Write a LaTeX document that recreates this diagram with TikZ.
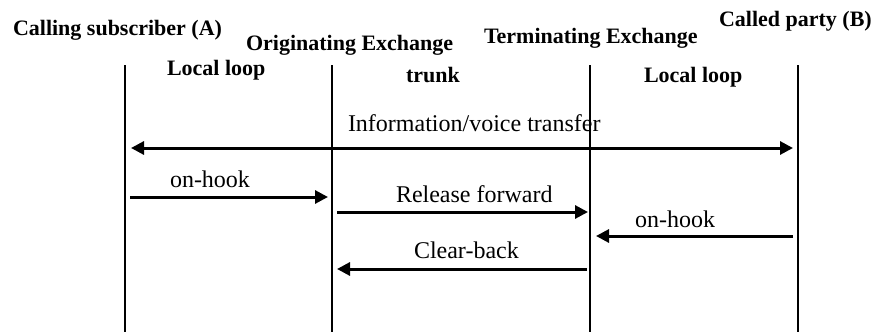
\documentclass[tikz,border=0pt]{standalone}
\usepackage{fontspec}
\setmainfont{Liberation Serif}
\usetikzlibrary{arrows.meta}

\tikzset{every picture/.style={line width=2pt}}
\tikzset{
	lifeline/.style={line width=2.4pt},
	msg/.style={line width=3pt,->,>={Triangle[length=13pt,width=13pt]}},
	head/.style={anchor=base west,inner sep=0pt,font=\fontsize{22}{26}\selectfont\bfseries},
	lbl/.style={anchor=base west,inner sep=0pt,font=\fontsize{24}{28}\selectfont}
}

\begin{document}
\begin{tikzpicture}[x=1pt,y=1pt,yscale=-1,xscale=1]
	\useasboundingbox (0,0) rectangle (880,332); %set diagram 880 wide and 332 high
	
	%Lifeline ends
	\coordinate (A top) at (125,65);
	\coordinate (A bot) at (125,332);
	\coordinate (OE top) at (332,65);
	\coordinate (OE bot) at (332,332);
	\coordinate (TE top) at (590,65);
	\coordinate (TE bot) at (590,332);
	\coordinate (B top) at (798,65);
	\coordinate (B bot) at (798,332);
	%Message ends
	\coordinate (info l) at (131,148);
	\coordinate (info r) at (793,148);
	\coordinate (hookA s) at (130,197);
	\coordinate (hookA e) at (328,197);
	\coordinate (rel s) at (337,212);
	\coordinate (rel e) at (588,212);
	\coordinate (hookB s) at (793,236);
	\coordinate (hookB e) at (596,236);
	\coordinate (clr s) at (587,269);
	\coordinate (clr e) at (337,269);
	
	%Straight Lines
	\draw [lifeline] (A top) -- (A bot) ;
	%Straight Lines
	\draw [lifeline] (OE top) -- (OE bot) ;
	%Straight Lines
	\draw [lifeline] (TE top) -- (TE bot) ;
	%Straight Lines
	\draw [lifeline] (B top) -- (B bot) ;
	
	%Straight Lines
	\draw [msg,<->] (info l) -- (info r) ;
	%Straight Lines
	\draw [msg] (hookA s) -- (hookA e) ;
	%Straight Lines
	\draw [msg] (rel s) -- (rel e) ;
	%Straight Lines
	\draw [msg] (hookB s) -- (hookB e) ;
	%Straight Lines
	\draw [msg] (clr s) -- (clr e) ;
	
	% Text Node
	\node [head] (subA) at (12,35) {Calling subscriber (A)};
	% Text Node
	\node [head] (origEx) at (245,50) {Originating Exchange};
	% Text Node
	\node [head] (termEx) at (483,43) {Terminating Exchange};
	% Text Node
	\node [head] (partyB) at (718,27) {Called party (B)};
	% Text Node
	\node [head] (loopA) at (166,75) {Local loop};
	% Text Node
	\node [head] (trunk) at (405,82) {trunk};
	% Text Node
	\node [head] (loopB) at (643,82) {Local loop};
	
	% Text Node
	\node [lbl] (infoLbl) at (347,131) {Information/voice transfer};
	% Text Node
	\node [lbl] (hookALbl) at (169,187) {on-hook};
	% Text Node
	\node [lbl] (relLbl) at (395,202) {Release forward};
	% Text Node
	\node [lbl] (hookBLbl) at (634,227) {on-hook};
	% Text Node
	\node [lbl] (clrLbl) at (413,258) {Clear-back};
	
\end{tikzpicture}
\end{document}
